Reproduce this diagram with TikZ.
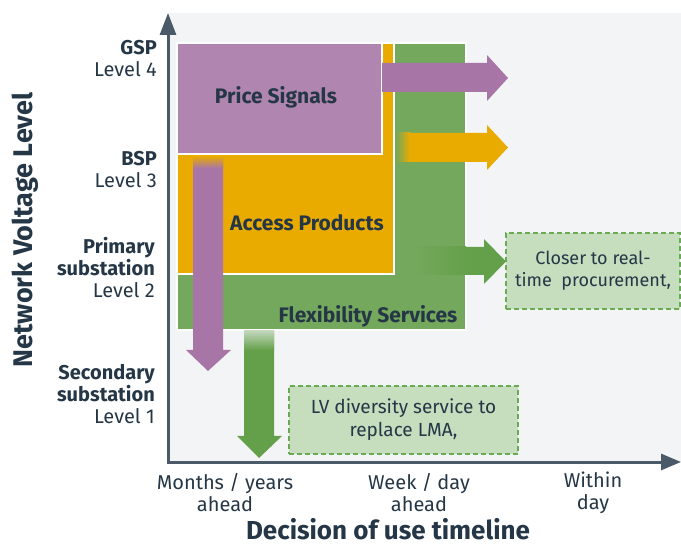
\documentclass[tikz,border=0pt]{standalone}
\usepackage{fontspec}
\setmainfont{Fira Sans}
\usetikzlibrary{positioning,arrows.meta}

\definecolor{bggray}{HTML}{F3F4F6}
\definecolor{axisgray}{HTML}{4A5A68}
\definecolor{txtdark}{HTML}{253746}
\definecolor{pricepurple}{HTML}{B085B0}
\definecolor{arrpurple}{HTML}{A876A6}
\definecolor{accorange}{HTML}{EAAB00}
\definecolor{flexgreen}{HTML}{74A85C}
\definecolor{arrgreen}{HTML}{64A04A}
\definecolor{notefill}{HTML}{C6DDBE}
\definecolor{noteline}{HTML}{6AAA55}

\tikzset{
  region/.style={draw=white, line width=1.2pt},
  boxlbl/.style={font=\fontsize{21}{24}\selectfont\bfseries, text=txtdark, inner sep=0pt},
  ylbl/.style={font=\fontsize{20}{22}\selectfont, text=txtdark, align=right, inner sep=0pt, anchor=east},
  xlbl/.style={font=\fontsize{20}{22}\selectfont, text=txtdark, align=center, inner sep=0pt},
  titlelbl/.style={font=\fontsize{27}{30}\selectfont\bfseries, text=txtdark, inner sep=0pt},
  notebox/.style={draw=noteline, fill=notefill, dashed, dash pattern=on 5pt off 3pt, line width=1.5pt,
    text=txtdark, align=center, inner sep=0pt}
}

\begin{document}
\begin{tikzpicture}[x=1pt,y=-1pt]
\useasboundingbox (0,0) rectangle (681,548);
% plot area
\fill[bggray] (168,13) rectangle (681,462);

% the three regions
\filldraw[region, fill=flexgreen] (177,43) rectangle (466,330);
\filldraw[region, fill=accorange] (177,43) rectangle (394,274);
\filldraw[region, fill=pricepurple] (177,43) rectangle (382,154);

% block arrows
\fill[arrpurple] (382,63) -- (487,63) -- (487,55) -- (508,78) -- (487,101) -- (487,92) -- (382,92) -- cycle;
\fill[accorange] (396,133) -- (487,133) -- (487,125) -- (508,147.5) -- (487,170) -- (487,162) -- (396,162) -- cycle;
\shade[left color=flexgreen, right color=accorange] (396,133) rectangle (410,162);
\fill[arrgreen] (415,247) -- (484,247) -- (484,239) -- (506,261.5) -- (484,284) -- (484,275) -- (415,275) -- cycle;
\shade[left color=flexgreen, right color=arrgreen] (415,247) rectangle (466,275);
\fill[arrpurple] (193,156) -- (223,156) -- (223,350) -- (231,350) -- (208,371) -- (186,350) -- (193,350) -- cycle;
\shade[top color=accorange, bottom color=arrpurple] (193,156) rectangle (223,168);
\fill[arrgreen] (244,331) -- (274,331) -- (274,436) -- (282,436) -- (259,458) -- (237,436) -- (244,436) -- cycle;
\shade[top color=arrgreen!35!bggray, bottom color=arrgreen] (244,331) rectangle (274,350);

% region labels
\node[boxlbl] (price) at (276,97) {Price Signals};
\node[boxlbl] (access) at (307,223) {Access Products};
\node[boxlbl] (flex) at (368,316) {Flexibility Services};

% notes
\node[notebox, minimum width=174pt, minimum height=76pt, font=\fontsize{18}{22}\selectfont] (closer) at (593,271) {Closer to real-\\time\ \ procurement,};
\node[notebox, minimum width=229pt, minimum height=68pt, font=\fontsize{19}{23}\selectfont] (lvdiv) at (403.5,420) {LV diversity service to\\replace LMA,};

% axes
\coordinate (origin) at (168,462);
\coordinate (ytop) at (168,13);
\coordinate (xend) at (681,462);
\draw[axisgray, line width=3pt, {Triangle[width=16pt,length=22pt]}-{Triangle[width=16pt,length=20pt]}] (ytop) -- (origin) -- (xend);

% level labels
\node[ylbl] (gsp) at (157,59) {\textbf{GSP}\\Level 4};
\node[ylbl] (bsp) at (157,170) {\textbf{BSP}\\Level 3};
\node[ylbl] (primary) at (155,268) {\textbf{Primary}\\\textbf{substation}\\Level 2};
\node[ylbl] (secondary) at (155,394) {\textbf{Secondary}\\\textbf{substation}\\Level 1};
\node[titlelbl, rotate=90] (ytitle) at (25,230) {Network Voltage Level};

% timeline labels
\node[xlbl] (months) at (225,493) {Months / years\\ahead};
\node[xlbl] (week) at (419,493) {Week / day\\ahead};
\node[xlbl] (within) at (593,493) {Within\\day};
\node[titlelbl, font=\fontsize{26}{30}\selectfont\bfseries] (xtitle) at (388,529) {Decision of use timeline};
\end{tikzpicture}
\end{document}
